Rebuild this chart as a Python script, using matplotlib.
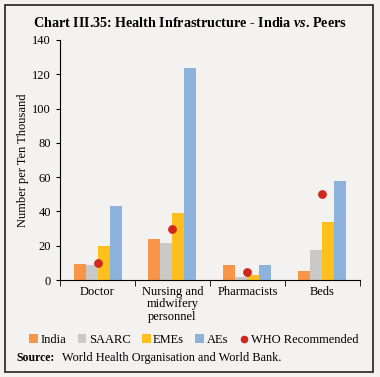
import matplotlib.pyplot as plt
import numpy as np
from matplotlib.lines import Line2D
from matplotlib.patches import Patch, Rectangle

categories = ["Doctor", "Nursing and\nmidwifery\npersonnel", "Pharmacists", "Beds"]
india = [9.3, 23.7, 8.8, 5.3]
saarc = [8.7, 21.6, 1.8, 17.5]
emes = [19.8, 39.3, 2.7, 33.9]
aes = [43.2, 123.7, 9.1, 57.8]
who = [10, 30, 5, 50]

series_names = ["India", "SAARC", "EMEs", "AEs"]
series_colors = ["#f79646", "#c9c9c9", "#ffc01e", "#8db3dc"]
who_color = "#d0281e"
bg = "#f4f1f1"

plt.rcParams["font.family"] = ["Liberation Serif", "DejaVu Serif"]
plt.rcParams["mathtext.fontset"] = "custom"
plt.rcParams["mathtext.it"] = "Liberation Serif:italic:bold"
plt.rcParams["mathtext.rm"] = "Liberation Serif:bold"

fig = plt.figure(figsize=(3.8, 3.77), dpi=100, facecolor=bg)
ax = fig.add_axes([0.158, 0.257, 0.789, 0.637])
ax.set_facecolor(bg)

x = np.arange(len(categories))
width = 0.16
offsets = (np.arange(4) - 1.5) * width
for series, name, color, off in zip([india, saarc, emes, aes], series_names,
                                    series_colors, offsets):
    ax.bar(x + off, series, width=width, color=color, label=name)
ax.scatter(x, who, s=28, color=who_color, zorder=3, label="WHO Recommended")

ax.set_xlim(-0.5, len(categories) - 0.5)
ax.set_ylim(0, 140)
ax.set_yticks(np.arange(0, 141, 20))
ax.set_xticks(x)
ax.set_xticklabels(categories, fontsize=9, linespacing=1.05)
ax.set_xticks(np.arange(-0.5, len(categories), 1), minor=True)
ax.tick_params(axis="x", which="major", length=0, pad=4)
ax.tick_params(axis="x", which="minor", length=4, direction="out")
ax.tick_params(axis="y", labelsize=9, length=3, direction="out")
for side in ["top", "right"]:
    ax.spines[side].set_visible(False)
ax.set_ylabel("Number per Ten Thousand", fontsize=9, labelpad=2)

fig.text(0.5, 0.94, "Chart III.35: Health Infrastructure - India $\\it{vs}$. Peers",
         ha="center", va="center", fontsize=10.2, fontweight="bold")

handles = [Patch(facecolor=c, label=n) for c, n in zip(series_colors, series_names)]
handles.append(Line2D([], [], marker="o", linestyle="none", color=who_color,
                      markersize=4.5, label="WHO Recommended"))
fig.legend(handles=handles, loc="center", bbox_to_anchor=(0.51, 0.098),
           ncol=5, frameon=False, fontsize=9, handlelength=0.7,
           handleheight=0.7, handletextpad=0.2, columnspacing=0.9)

fig.text(0.042, 0.05, "Source:", fontsize=8.5, fontweight="bold", va="center")
fig.text(0.162, 0.05, "World Health Organisation and World Bank.",
         fontsize=8.8, va="center")

fig.patches.append(Rectangle((0.013, 0.013), 0.968, 0.974, transform=fig.transFigure,
                             fill=False, edgecolor="#222222", linewidth=1.2))

fig.savefig("out.png", dpi=100, facecolor=bg)
